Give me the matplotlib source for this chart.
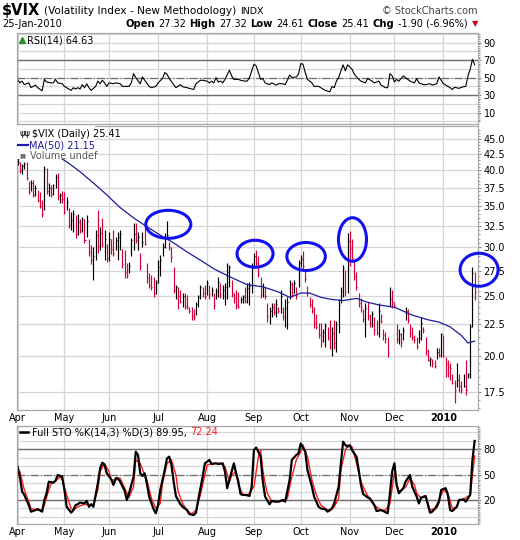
import numpy as np
import pandas as pd
import matplotlib
matplotlib.use('Agg')
import matplotlib.pyplot as plt
from matplotlib.patches import Ellipse, Rectangle
from matplotlib.transforms import ScaledTranslation

# trading days Apr 1 2009 .. Jan 25 2010
holidays = ['2009-04-10', '2009-05-25', '2009-07-03', '2009-09-07',
            '2009-11-26', '2009-12-25', '2010-01-01', '2010-01-18']
days = pd.bdate_range('2009-04-01', '2010-01-25')
days = days[~days.isin(pd.to_datetime(holidays))]
month_lbl = ['Apr', 'May', 'Jun', 'Jul', 'Aug', 'Sep', 'Oct', 'Nov', 'Dec', '2010']

# daily high / low / close
hi = [42.6, 41.3, 41.0, 41.3, 41.3, 38.4, 38.6, 38.6, 37.8, 37.2,
      36.9, 35.8, 40.6, 40.4, 38.2, 37.8, 38.0, 39.4, 39.6, 36.7,
      37.0, 36.9, 36.2, 34.8, 34.2, 34.5, 33.9, 34.0, 33.4, 33.6,
      33.3, 33.9, 31.0, 30.3, 30.0, 32.0, 34.5, 32.4, 33.5, 32.0,
      30.4, 31.8, 31.0, 32.0, 31.2, 31.8, 32.0, 29.8, 29.7, 28.3,
      28.4, 31.1, 32.9, 32.9, 31.8, 29.4, 31.8, 32.9, 28.3, 27.3,
      27.1, 26.9, 26.6, 28.6, 29.2, 30.5, 31.7, 33.1, 30.6, 30.0,
      27.9, 26.1, 25.9, 25.6, 25.3, 25.3, 25.1, 24.0, 24.0, 23.8,
      24.5, 25.1, 26.1, 25.9, 26.1, 26.6, 26.1, 25.9, 25.3, 25.8,
      26.9, 26.3, 26.1, 26.3, 28.3, 28.1, 26.6, 25.3, 25.6, 25.4,
      24.9, 25.1, 25.9, 26.3, 26.4, 28.3, 29.4, 29.7, 29.0, 26.9,
      26.3, 25.9, 24.4, 24.0, 24.4, 24.4, 24.7, 24.0, 25.6, 24.0,
      24.7, 24.9, 26.6, 26.4, 26.6, 25.9, 28.6, 29.2, 29.6, 27.6,
      26.0, 24.9, 24.7, 24.0, 23.4, 22.6, 22.6, 22.1, 22.6, 22.3,
      22.9, 22.3, 22.9, 22.8, 24.7, 25.9, 28.1, 27.6, 31.6, 31.9,
      30.9, 28.5, 27.4, 25.3, 24.8, 23.8, 24.4, 24.5, 23.4, 23.7,
      23.1, 22.9, 24.4, 23.4, 22.1, 21.9, 21.5, 25.9, 25.6, 24.5,
      22.5, 22.1, 21.8, 22.3, 24.0, 23.8, 22.5, 22.3, 21.6, 21.5,
      22.0, 23.1, 22.3, 21.5, 20.5, 19.9, 19.8, 19.7, 20.6, 20.6,
      21.8, 21.6, 19.9, 19.7, 19.5, 18.7, 18.3, 19.5, 18.7, 18.2,
      18.7, 19.7, 18.8, 22.5, 27.9, 27.32]
lo = [40.8, 39.6, 39.5, 40.2, 38.6, 36.6, 37.0, 36.2, 36.3, 35.5,
      34.7, 33.6, 34.5, 36.6, 36.4, 36.2, 36.5, 37.5, 35.8, 35.4,
      35.4, 34.0, 34.5, 32.3, 32.0, 31.8, 31.1, 31.4, 31.6, 31.8,
      30.5, 31.2, 29.0, 28.2, 26.6, 28.6, 29.4, 29.7, 30.0, 28.6,
      28.4, 28.5, 29.3, 29.0, 29.7, 28.6, 29.7, 27.8, 26.8, 26.8,
      27.3, 29.0, 29.7, 30.5, 29.7, 27.6, 30.0, 30.3, 26.3, 25.8,
      25.6, 24.9, 25.2, 26.3, 27.0, 29.0, 29.9, 31.1, 29.7, 28.4,
      25.3, 24.7, 23.8, 24.4, 24.0, 23.8, 23.8, 23.5, 22.9, 22.9,
      23.3, 24.0, 24.7, 24.9, 24.7, 25.1, 24.7, 25.0, 23.8, 24.7,
      24.9, 24.8, 24.7, 24.2, 24.7, 25.9, 24.9, 24.4, 23.8, 23.9,
      24.4, 24.4, 24.4, 24.4, 24.2, 25.3, 27.9, 27.9, 26.9, 24.8,
      24.9, 24.7, 22.7, 22.5, 23.1, 23.3, 23.1, 23.5, 23.5, 22.9,
      22.3, 22.1, 24.7, 24.9, 25.3, 24.7, 25.9, 27.9, 27.6, 26.4,
      25.0, 24.0, 23.5, 22.2, 22.1, 21.4, 20.7, 21.1, 20.7, 21.2,
      20.5, 20.0, 20.5, 20.3, 21.8, 24.4, 24.9, 25.0, 25.3, 28.0,
      28.4, 26.6, 25.6, 24.0, 23.6, 22.7, 21.5, 22.9, 22.3, 22.3,
      21.6, 21.6, 21.5, 22.6, 21.2, 21.0, 19.9, 24.0, 23.9, 23.9,
      21.0, 20.9, 20.7, 21.2, 22.9, 22.6, 21.5, 21.2, 21.0, 20.5,
      21.0, 21.2, 21.8, 20.1, 19.6, 19.3, 19.2, 19.1, 19.8, 19.9,
      19.9, 19.9, 18.5, 18.5, 18.3, 18.0, 16.8, 17.8, 17.5, 17.4,
      17.8, 17.3, 18.4, 18.4, 22.3, 24.61]
cl = [41.2, 39.9, 40.6, 41.0, 38.9, 36.9, 38.2, 36.5, 37.4, 35.8,
      35.0, 34.0, 40.2, 37.0, 37.4, 36.6, 37.8, 39.0, 36.3, 36.5,
      36.0, 34.3, 35.6, 32.6, 33.2, 34.0, 31.5, 33.0, 32.0, 33.3,
      30.8, 33.1, 29.5, 28.6, 29.0, 31.4, 30.2, 31.6, 30.4, 31.0,
      28.8, 30.9, 29.8, 29.4, 30.8, 31.2, 31.5, 28.2, 27.4, 27.1,
      28.0, 30.8, 31.5, 30.8, 31.2, 28.0, 30.6, 30.4, 26.8, 26.1,
      25.9, 25.3, 26.3, 27.9, 28.6, 30.0, 30.9, 31.4, 30.0, 28.9,
      25.6, 25.9, 25.0, 24.6, 25.0, 24.1, 24.0, 23.7, 23.2, 23.1,
      24.3, 24.9, 25.9, 25.3, 25.0, 26.3, 25.2, 25.6, 24.2, 25.5,
      26.4, 25.2, 25.6, 25.9, 27.4, 27.9, 25.3, 24.8, 24.2, 24.0,
      24.7, 24.9, 24.6, 25.8, 26.0, 27.8, 29.0, 28.3, 27.2, 25.1,
      25.9, 25.0, 23.2, 23.7, 24.0, 23.6, 24.3, 23.7, 25.0, 23.2,
      23.9, 24.5, 26.2, 25.3, 26.3, 25.1, 28.3, 28.7, 28.0, 26.7,
      25.3, 24.3, 23.7, 22.6, 22.3, 21.6, 21.2, 21.9, 22.4, 21.5,
      20.7, 21.8, 21.0, 22.5, 24.2, 25.5, 27.8, 25.5, 30.7, 29.8,
      28.8, 27.0, 25.9, 24.4, 24.0, 23.0, 23.9, 23.2, 22.6, 23.4,
      22.0, 21.8, 23.7, 22.8, 21.6, 21.3, 20.2, 24.7, 24.5, 24.1,
      21.3, 21.7, 21.1, 22.0, 23.7, 22.9, 21.8, 21.5, 21.2, 20.8,
      21.4, 22.6, 22.0, 20.4, 19.7, 19.8, 19.5, 19.3, 20.3, 20.1,
      21.7, 20.0, 19.4, 19.2, 19.1, 18.1, 17.6, 18.3, 17.9, 17.6,
      17.9, 17.6, 18.7, 22.3, 27.3, 25.41]

# MA(50) read at points along the blue line
ma_day = [0, 8, 15, 22, 28, 36, 40, 46, 52, 58, 64, 70, 76, 82, 88, 95, 103,
          110, 117, 122, 127, 131, 136, 141, 146, 152, 156, 162, 169, 177,
          184, 189, 194, 199, 202, 205]
ma_val = [45.6, 44.3, 42.8, 41.3, 39.8, 37.6, 36.5, 34.8, 33.5, 32.4, 31.4,
          30.5, 29.5, 28.6, 27.7, 26.9, 26.1, 25.9, 25.4, 24.9, 25.3, 25.3,
          24.9, 24.7, 24.6, 24.8, 24.5, 24.2, 24.0, 23.3, 22.9, 22.7, 22.3,
          21.6, 21.0, 21.15]

# RSI(14)
rsi_day = [0, 1, 2, 3, 5, 6, 8, 9, 11, 12, 13, 15, 16, 17, 18, 20, 21, 23, 24,
           25, 26, 27, 28, 29, 30, 31, 32, 33, 35, 36, 37, 38, 39, 40, 41, 43,
           44, 46, 47, 50, 51, 52, 53, 55, 56, 57, 59, 60, 62, 63, 65, 66, 67,
           68, 70, 71, 73, 74, 76, 77, 79, 80, 82, 83, 85, 86, 87, 88, 89, 90,
           91, 92, 93, 95, 96, 97, 99, 100, 102, 103, 104, 106, 107, 108, 109,
           110, 111, 113, 114, 116, 117, 119, 120, 121, 122, 123, 125, 126,
           127, 128, 129, 130, 132, 133, 135, 137, 138, 140, 141, 142, 143,
           144, 145, 146, 147, 148, 150, 151, 153, 154, 156, 157, 159, 160,
           162, 163, 165, 166, 167, 168, 169, 170, 171, 173, 175, 176, 178,
           179, 180, 182, 183, 185, 186, 188, 189, 191, 192, 194, 195, 196,
           198, 199, 201, 202, 203, 204, 205]
rsi_val = [48, 44, 46, 42, 44, 38.5, 41.5, 38.5, 35, 48, 45, 44, 44, 48, 44, 43,
           40, 37, 35.4, 38.5, 37, 38.5, 37, 42, 38.5, 43, 38.5, 35.4, 40, 46,
           43, 47, 44, 40, 44, 43, 44, 43, 40, 40, 44, 54.6, 50, 43, 50.8, 47,
           40, 38.5, 40, 44, 49, 55.8, 54, 49, 42, 38.5, 42, 39.6, 38.5, 37.7,
           36.5, 43, 47, 47, 46, 44, 46, 44, 50, 45, 46, 44, 48, 58.5, 52, 48,
           48, 47, 46, 46, 50, 65.4, 63.5, 55.8, 48, 49, 44, 42, 44, 41.5, 43,
           43, 42, 47, 53, 50, 50.8, 54, 66, 65.4, 55.8, 48, 44, 40, 40, 37,
           35.4, 33.8, 40, 38.5, 46, 50, 57.7, 64.6, 57.7, 64.6, 59.6, 54, 48,
           46, 44, 49, 46, 44, 46, 41.5, 38.5, 38.5, 54.6, 52, 45, 48, 46, 52,
           48, 46, 44, 49, 44, 42, 42, 43, 41.5, 43, 50.8, 43, 41.5, 38.5,
           36.5, 39, 37.7, 39, 40, 52, 59.6, 71, 64.63]

# Full STO %K(14,3) and %D(3)
k_day = [0, 1, 2, 3, 5, 6, 8, 9, 11, 12, 13, 14, 16, 17, 18, 20, 21, 22, 24,
         25, 26, 27, 28, 30, 31, 32, 33, 34, 36, 37, 38, 39, 40, 42, 43, 44,
         45, 46, 48, 49, 50, 52, 53, 54, 55, 56, 57, 58, 59, 61, 62, 63, 64,
         66, 67, 68, 69, 70, 71, 73, 74, 76, 77, 79, 80, 81, 83, 84, 86, 87,
         89, 90, 92, 93, 94, 95, 97, 98, 99, 100, 101, 103, 104, 105, 106,
         107, 108, 109, 110, 111, 113, 114, 116, 117, 119, 120, 122, 123,
         125, 126, 127, 129, 130, 132, 133, 135, 136, 138, 139, 141, 142,
         144, 145, 146, 147, 148, 149, 150, 152, 153, 154, 155, 157, 158,
         160, 161, 163, 164, 166, 167, 168, 169, 170, 171, 173, 174, 176,
         177, 178, 179, 180, 181, 183, 184, 185, 186, 188, 189, 190, 192,
         193, 194, 195, 197, 198, 200, 201, 203, 204, 205]
k_val = [59.5, 47.6, 30, 26, 14, 6.2, 8, 9.3, 6.2, 20, 28, 41.7, 40.5, 43,
         49.6, 47.6, 32, 12, 5, 8, 14, 15, 17, 16, 19, 12, 15, 12, 40, 57.5,
         64.2, 61.5, 51.6, 44.5, 37.8, 45.7, 45.7, 41.7, 31, 20, 28, 47.6,
         77.2, 73.3, 51.6, 48.4, 51.6, 39, 24, 9, 4.2, 14, 32, 55.5, 69.3,
         71.3, 61.5, 41.7, 24.7, 15, 12, 8, 3.4, 2.2, 5, 20, 47.6, 63.4, 67.4,
         62.6, 63.4, 62.6, 63.4, 53.6, 34, 43.7, 63.4, 51.6, 41.7, 27, 26, 26,
         24.7, 35.8, 79.2, 82, 77, 71, 41.7, 24, 15, 19, 18, 18, 20, 18, 43.7,
         67.4, 73.3, 75.3, 87, 77.2, 55.5, 35.8, 24, 12, 10, 9, 6.2, 10, 16,
         35.8, 63.4, 89, 85, 83.2, 85, 79, 71.3, 55.5, 37.8, 27, 23, 22, 14,
         7, 8, 7, 4.2, 28, 53.6, 63.4, 37.8, 28, 34, 41.7, 49.6, 35.8, 30, 24,
         16, 23, 24.7, 15, 5, 6.2, 12, 18, 32, 34, 26, 8, 7, 12, 20, 20.8, 18,
         26, 67.4, 89.95]
d_day = [0, 1, 3, 5, 6, 9, 11, 12, 14, 15, 17, 19, 20, 22, 24, 25, 27, 30, 32,
         34, 36, 37, 39, 41, 42, 44, 46, 48, 50, 52, 53, 55, 57, 58, 60, 62,
         64, 65, 67, 69, 71, 72, 74, 76, 78, 80, 82, 84, 85, 88, 91, 93, 95,
         96, 98, 99, 101, 103, 106, 108, 109, 110, 111, 112, 114, 116, 119,
         121, 123, 125, 127, 128, 130, 132, 134, 136, 138, 140, 142, 144, 145,
         147, 148, 150, 152, 154, 156, 158, 160, 163, 165, 167, 169, 170, 171,
         174, 176, 178, 179, 181, 183, 185, 187, 189, 191, 193, 195, 197, 198,
         200, 203, 205]
d_val = [47.6, 53.6, 32, 18, 10, 8, 8, 14, 32, 39, 42, 47.6, 43.7, 26, 10, 8,
         12, 15, 14, 15, 32, 53.6, 63.4, 53.6, 43.7, 43.7, 45.7, 34, 23, 35.8,
         67.4, 63.4, 49.6, 43.7, 22, 10, 16, 40, 63.4, 67.4, 49.6, 30, 16, 8,
         3.4, 8, 26, 49.6, 61.5, 63.4, 63.4, 59.5, 41.7, 49.6, 53.6, 37.8, 27,
         24.7, 35.8, 71.3, 79, 55.5, 40, 28, 18, 18, 19, 22, 47.6, 67.4, 77.2,
         85, 71.3, 43.7, 26, 14, 10, 7, 12, 22, 55.5, 79, 85, 83, 63.4, 41.7,
         30, 20.8, 14, 8, 8, 16, 51.6, 40, 30, 35, 45.7, 37.8, 28, 22, 24, 8,
         10, 20, 32, 28, 10, 12, 20, 20.8, 26, 72.24]

# circled spikes: (day, level)
circ_day = [67.6, 106.5, 129.4, 150.2, 207]
circ_lvl = [32.7, 29.3, 29.0, 30.9, 27.6]

W, H = 520, 540
fig = plt.figure(figsize=(W / 100, H / 100), dpi=100)
plt.rcParams['font.family'] = 'DejaVu Sans'


def box(l, t, r, b):
    return [l / W, 1 - b / H, (r - l) / W, (b - t) / H]


def fpos(x, y):
    return x / W, 1 - y / H


ax_rsi = fig.add_axes(box(16.5, 33, 478, 124))
ax_px = fig.add_axes(box(16.5, 126, 478, 410))
ax_sto = fig.add_axes(box(16.5, 426, 478, 524))

x = np.arange(len(days))
month_start = [i for i in range(len(days)) if i == 0 or days[i].month != days[i - 1].month]
grid_c = '#d6d6d6'
dark_c = '#6e6e6e'

for ax in (ax_rsi, ax_px, ax_sto):
    ax.set_xlim(-0.5, 206.5)
    ax.set_xticks(month_start)
    ax.grid(True, axis='x', color=grid_c, lw=0.9)
    ax.set_axisbelow(True)
    ax.yaxis.tick_right()
    ax.tick_params(axis='y', which='major', labelsize=7, length=2, pad=2,
                   color='#888888')
    ax.tick_params(axis='y', which='minor', length=1.5, color='#888888')
    ax.tick_params(axis='x', length=0, labelsize=7, pad=2)
    for s in ax.spines.values():
        s.set_color('#a8a8a8')
        s.set_linewidth(0.9)

# RSI panel
ax_rsi.set_ylim(-3, 101)
for lv in range(0, 101, 10):
    ax_rsi.axhline(lv, color=grid_c, lw=0.9, zorder=0)
ax_rsi.axhline(70, color=dark_c, lw=1.0)
ax_rsi.axhline(30, color=dark_c, lw=1.0)
ax_rsi.axhline(50, color=dark_c, lw=0.9, ls='-.')
ax_rsi.plot(rsi_day, rsi_val, color='black', lw=0.8)
ax_rsi.set_yticks([10, 30, 50, 70, 90])
ax_rsi.set_yticks(np.arange(0, 101, 2), minor=True)
ax_rsi.set_xticklabels([])
ax_rsi.text(0.022, 0.92, 'RSI(14) 64.63', transform=ax_rsi.transAxes,
            fontsize=7, va='center', ha='left')
ax_rsi.plot([0.011], [0.925], marker='^', ms=4, color='#2e8b2e',
            transform=ax_rsi.transAxes)

# price panel
cl_arr = np.array(cl)
up = np.r_[True, cl_arr[1:] >= cl_arr[:-1]]
bar_col = np.where(up, 'black', '#d6003a')
ax_px.set_yscale('log')
ax_px.set_ylim(16.35, 47.2)
yt = [17.5, 20, 22.5, 25, 27.5, 30, 32.5, 35, 37.5, 40, 42.5, 45]
ax_px.set_yticks(yt)
ax_px.set_yticklabels(['%.1f' % v for v in yt])
ax_px.yaxis.set_minor_locator(matplotlib.ticker.FixedLocator(np.arange(16.5, 47, 0.5)))
ax_px.yaxis.set_minor_formatter(matplotlib.ticker.NullFormatter())
for v in yt:
    ax_px.axhline(v, color=grid_c, lw=0.9, zorder=0)
ax_px.vlines(x, lo, hi, colors=bar_col, lw=0.85)
ax_px.hlines(cl, x, x + 0.45, colors=bar_col, lw=0.8)
ax_px.plot(ma_day, ma_val, color='#1c1c9c', lw=0.9)
ax_px.set_xticklabels(month_lbl)
ax_px.get_xticklabels()[-1].set_fontweight('bold')

# legend block sits on a white patch that hides what runs under it
ax_px.add_patch(Rectangle((0, 0.883), 0.17, 0.117, transform=ax_px.transAxes,
                          fc='white', ec='none', zorder=4))
lg = dict(transform=ax_px.transAxes, fontsize=7, va='center', ha='left', zorder=5)
ax_px.text(0.034, 0.972, '$VIX (Daily) 25.41', **lg)
ax_px.text(0.028, 0.933, 'MA(50) 21.15', color='#1c1c9c', **lg)
ax_px.text(0.030, 0.894, 'Volume undef', color='#555555', **lg)
ax_px.plot([0.004, 0.024], [0.933, 0.933], color='#1c1c9c', lw=1.6,
           transform=ax_px.transAxes, zorder=6)
ax_px.text(0.006, 0.972, 'ψψ', transform=ax_px.transAxes, fontsize=6,
           va='center', ha='left', zorder=6)
ax_px.text(0.006, 0.894, '▮▮', transform=ax_px.transAxes, fontsize=4.5,
           color='#666666', va='center', ha='left', zorder=6)

for cd, cv, w, h in zip(circ_day, circ_lvl, [45, 36, 38.5, 28, 38], [28, 27, 28, 43.5, 33]):
    tr = fig.dpi_scale_trans + ScaledTranslation(cd, cv, ax_px.transData)
    fig.add_artist(Ellipse((0, 0), w / 100, h / 100, transform=tr, fill=False,
                           ec='#1010f0', lw=2.2, zorder=10))

# stochastics panel
ax_sto.set_ylim(-8.4, 107.6)
for lv in range(0, 101, 10):
    ax_sto.axhline(lv, color=grid_c, lw=0.9, zorder=0)
ax_sto.axhline(80, color=dark_c, lw=1.0)
ax_sto.axhline(20, color=dark_c, lw=1.0)
ax_sto.axhline(50, color=dark_c, lw=0.9, ls='-.')
ax_sto.plot(d_day, d_val, color='#ff1a1a', lw=1.0)
ax_sto.plot(k_day, k_val, color='black', lw=1.6)
ax_sto.set_yticks([20, 50, 80])
ax_sto.set_yticks(np.arange(-8, 107, 2), minor=True)
ax_sto.set_xticklabels(month_lbl)
ax_sto.get_xticklabels()[-1].set_fontweight('bold')
ax_sto.plot([0.008, 0.026], [0.935, 0.935], color='black', lw=1.8,
            transform=ax_sto.transAxes)
t1 = ax_sto.text(0.033, 0.935, 'Full STO %K(14,3) %D(3) 89.95, ',
                 transform=ax_sto.transAxes, fontsize=7, va='center', ha='left')
ax_sto.annotate('72.24', xycoords=t1, xy=(1, 0.5), va='center', ha='left',
                fontsize=7, color='#ff1a1a')

# header: pieces laid out left to right
renderer = fig.canvas.get_renderer()


def run(pieces, x0, y, gap):
    xp = x0
    for s, size, bold, col in pieces:
        t = fig.text(*fpos(xp, y), s, fontsize=size, va='center', color=col,
                     fontweight='bold' if bold else 'normal')
        xp += t.get_window_extent(renderer).width + gap
    return xp


run([('$VIX', 10.5, True, 'black'),
     ('(Volatility Index - New Methodology)', 7.6, False, 'black'),
     ('INDX', 6.8, False, 'black')], 2, 11, 4)
fig.text(*fpos(478, 11), '© StockCharts.com', fontsize=7, va='center', ha='right',
         color='#444444')
fig.text(*fpos(2, 24), '25-Jan-2010', fontsize=7, va='center')
end = run([('Open', 7.2, True, 'black'), ('27.32', 7, False, 'black'),
           ('High', 7.2, True, 'black'), ('27.32', 7, False, 'black'),
           ('Low', 7.2, True, 'black'), ('24.61', 7, False, 'black'),
           ('Close', 7.2, True, 'black'), ('25.41', 7, False, 'black'),
           ('Chg', 7.2, True, 'black'), ('-1.90 (-6.96%)', 7, False, 'black')],
          125, 24, 3.5)
fig.text(*fpos(end + 1, 24), '▼', fontsize=6, va='center', color='#cc0022')

fig.savefig('out.png', dpi=100)
